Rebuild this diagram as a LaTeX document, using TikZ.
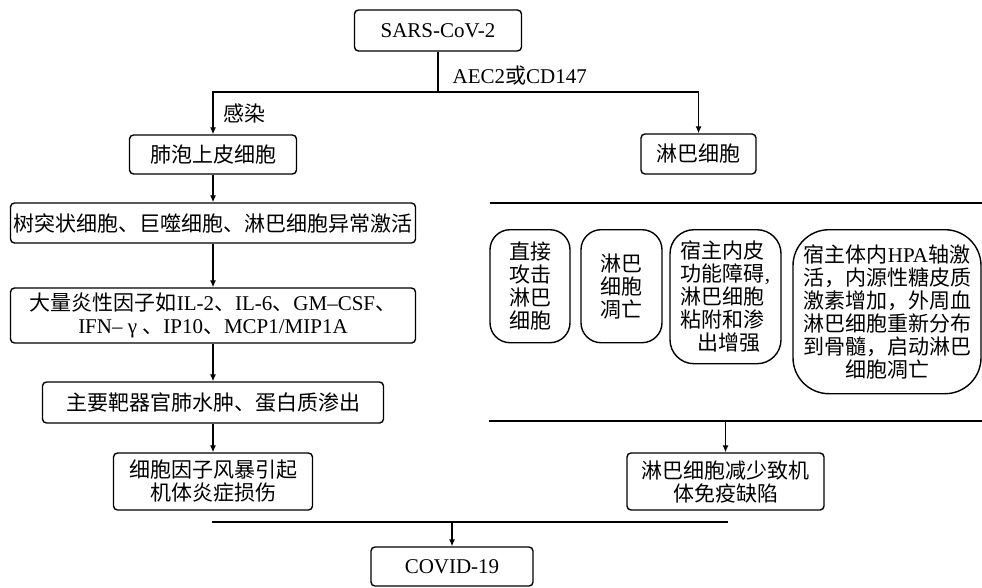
\documentclass[tikz,border=0pt]{standalone}
\usepackage{fontspec}
\setmainfont{Liberation Serif}
\newfontfamily\cjk{Noto Sans CJK SC}
\newcommand\zh[1]{{\cjk #1}}
\usetikzlibrary{arrows.meta}

\begin{document}
\begin{tikzpicture}[x=1pt, y=-1pt,
	every node/.style={font=\fontsize{21}{23}\selectfont, inner sep=2pt},
	box/.style={draw, line width=1.4pt, rounded corners=4pt, inner sep=0pt, align=center},
	bubble/.style={draw, line width=1.4pt, rounded corners=20pt, inner sep=0pt, anchor=north, font=\fontsize{21}{23}\selectfont\cjk},
	arr/.style={line width=1.2pt, -{Latex[length=7pt,width=6pt]}},
	barline/.style={line width=2pt}]
	%%%%% START %%%%%
	\useasboundingbox (0,0) rectangle (982,587);
	
	% left column
	\node[box, minimum width=167pt, minimum height=41pt] (sars) at (438,30.5) {SARS-CoV-2};
	\node[box, minimum width=167pt, minimum height=39pt] (lung) at (213,154.5) {\zh{肺泡上皮细胞}};
	\node[box, minimum width=115pt, minimum height=40pt] (lym) at (698.5,154) {\zh{淋巴细胞}};
	\node[box, minimum width=405pt, minimum height=40pt] (act) at (213,223) {\zh{树突状细胞、巨噬细胞、淋巴细胞异常激活}};
	\node[box, minimum width=405pt, minimum height=55pt] (cyto) at (213,315.5) {\zh{大量炎性因子如}IL-2\zh{、}IL-6\zh{、}GM--CSF\zh{、}\\IFN-- γ \zh{、}IP10\zh{、}MCP1/MIP1A};
	\node[box, minimum width=341pt, minimum height=41pt] (organ) at (213,402.5) {\zh{主要靶器官肺水肿、蛋白质渗出}};
	\node[box, minimum width=199pt, minimum height=57pt] (storm) at (213,481.5) {\zh{细胞因子风暴引起}\\\zh{机体炎症损伤}};
	
	% right column
	\node[bubble, align=center, minimum width=80pt, minimum height=113pt] (attack) at (530,229) {直接\\攻击\\淋巴\\细胞};
	\node[bubble, align=center, minimum width=81pt, minimum height=113pt] (apop) at (621.5,229) {淋巴\\细胞\\凋亡};
	\node[bubble, align=left, minimum width=111pt, minimum height=134pt, rounded corners=24pt] (endo) at (725.5,229) {宿主内皮\\功能障碍\textrm{,}\\淋巴细胞\\粘附和渗\\\hspace*{17pt}出增强};
	\node[bubble, align=center, minimum width=188pt, minimum height=164pt, rounded corners=36pt] (hpa) at (887,229) {宿主体内\textrm{HPA}轴激\\活，内源性糖皮质\\激素增加，外周血\\淋巴细胞重新分布\\到骨髓，启动淋巴\\细胞凋亡};
	\node[box, minimum width=197pt, minimum height=57pt] (drop) at (725.5,481.5) {\zh{淋巴细胞减少致机}\\\zh{体免疫缺陷}};
	
	\node[box, minimum width=162pt, minimum height=39pt] (covid) at (452,566.5) {COVID-19};
	
	% connectors
	\coordinate (split) at (438,92);
	\draw[line width=1.2pt] (sars.south) -- node[pos=0.6, anchor=west, xshift=12pt] {AEC2\zh{或}CD147} (split);
	\draw[arr] (split) -| node[pos=0.75, anchor=west, xshift=8pt] {\zh{感染}} (lung.north);
	\draw[arr] (split) -| (lym.north);
	
	\draw[arr] (lung) -- (act);
	\draw[arr] (act) -- (cyto);
	\draw[arr] (cyto) -- (organ);
	\draw[arr] (organ) -- (storm);
	
	\coordinate (topL) at (490,203);
	\coordinate (topR) at (982,203);
	\draw[barline] (topL) -- (topR);
	
	\coordinate (midL) at (489,421);
	\coordinate (midR) at (982,421);
	\draw[barline] (midL) -- (midR);
	\draw[arr] (midL -| drop) -- (drop);
	
	\coordinate (botL) at (212,522);
	\coordinate (botR) at (728,522);
	\draw[barline] (botL) -- (botR);
	\draw[arr] (botL -| covid) -- (covid);
	
	%%%%% END %%%%%
\end{tikzpicture}
\end{document}
